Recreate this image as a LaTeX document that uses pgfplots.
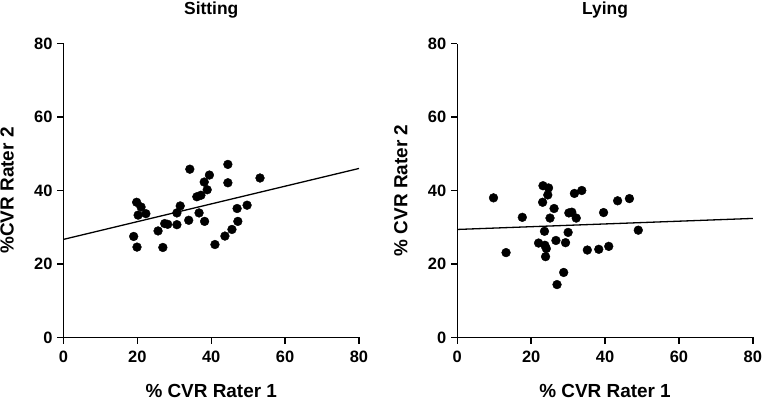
\documentclass[border=0pt]{standalone}
\usepackage{pgfplots}
\pgfplotsset{compat=1.18}
\usepackage{fontspec}
\setmainfont{Liberation Sans}
\pgfplotstableread{
x y
19.0 27.5
19.9 24.6
19.8 36.8
20.2 33.3
21.0 35.5
22.3 33.7
25.6 29.0
26.9 24.5
27.4 31.0
28.2 30.8
30.7 30.7
30.7 33.9
31.6 35.8
33.9 31.9
34.2 45.8
36.1 38.3
36.7 33.9
37.2 38.7
38.1 42.3
38.2 31.6
38.9 40.2
39.5 44.2
41.0 25.3
43.7 27.6
44.5 47.1
44.5 42.1
45.6 29.4
47.0 35.1
47.2 31.6
49.7 36.0
53.2 43.4
}\sitting
\pgfplotstableread{
x y
9.8 38.0
13.2 23.1
17.6 32.7
22.0 25.7
23.2 41.3
23.1 36.8
23.6 28.9
23.7 25.1
24.1 24.2
23.9 22.0
24.5 38.8
24.7 40.7
25.1 32.5
26.2 35.1
26.7 26.4
27.0 14.4
28.8 17.7
29.3 25.8
30.0 28.6
30.2 33.9
31.0 34.1
31.7 39.2
32.2 32.5
33.7 40.0
35.2 23.8
38.3 24.0
39.6 34.0
41.0 24.8
43.4 37.2
46.6 37.8
49.0 29.2
}\lying
\pgfplotsset{
  panel/.style={
    scale only axis,
    width=295.5bp, height=294bp,
    xmin=0, xmax=80, ymin=0, ymax=80,
    xtick={0,20,...,80}, ytick={0,20,...,80},
    axis x line*=bottom, axis y line*=left,
    axis line style={line width=1.4bp},
    tick align=outside,
    major tick length=6bp,
    tick style={line width=1.4bp, black},
    /pgf/number format/assume math mode=true,
    tick label style={font=\bfseries\fontsize{16.5}{19}\selectfont},
    xticklabel style={yshift=-4.5bp},
    yticklabel style={xshift=-1.5bp},
    label style={font=\bfseries\fontsize{19}{22}\selectfont},
    every axis title shift=0pt,
    title style={font=\bfseries\fontsize{17.5}{21}\selectfont, at={(axis description cs:0.5,1.0997)}, anchor=base},
    xlabel style={at={(axis description cs:0.5,-0.2024)}, anchor=base},
    ylabel style={at={(axis description cs:-0.169,0.5)}, anchor=base},
    clip=false,
  },
  dots/.style={only marks, mark=*, mark size=4.4bp, mark options={fill=black, draw=black}},
  fit/.style={black, line width=1.3bp, no marks},
}
\begin{document}
\begin{tikzpicture}
\path[use as bounding box] (0,0) rectangle (762bp,402bp);
\begin{axis}[panel, at={(63.5bp,64.5bp)}, anchor=south west,
  title={Sitting}, xlabel={\% CVR Rater 1}, ylabel={\%CVR Rater 2}]
\addplot[fit] coordinates {(0,26.7) (80,46.0)};
\addplot[dots] table[x=x,y=y] {\sitting};
\end{axis}
\begin{axis}[panel, at={(457.3bp,64.5bp)}, anchor=south west,
  title={Lying}, xlabel={\% CVR Rater 1}, ylabel={\% CVR Rater 2}]
\addplot[fit] coordinates {(0,29.4) (80,32.4)};
\addplot[dots] table[x=x,y=y] {\lying};
\end{axis}
\end{tikzpicture}
\end{document}
